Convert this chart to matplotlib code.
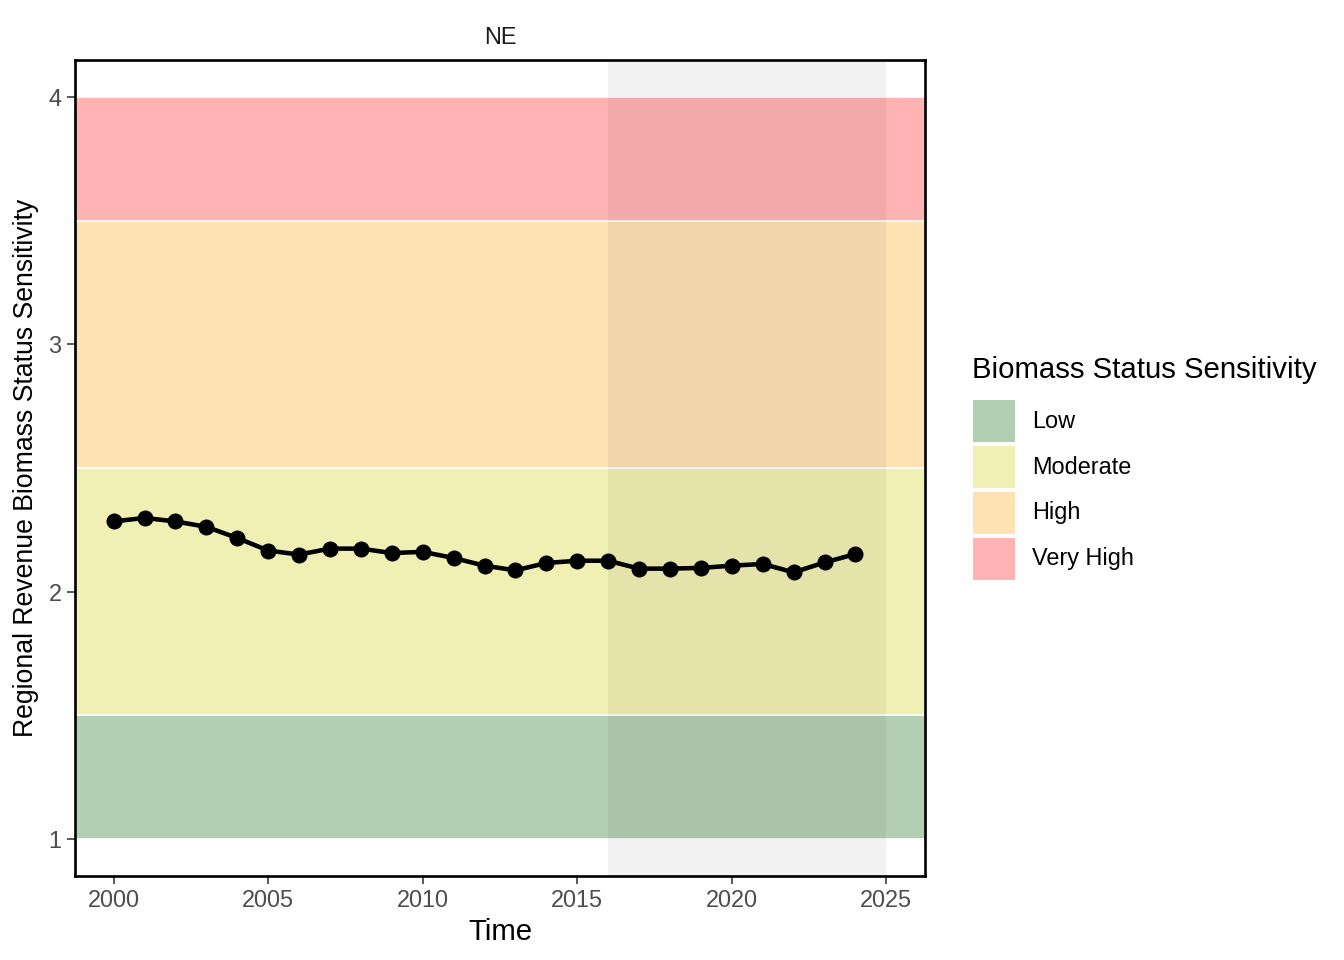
import matplotlib
matplotlib.use("Agg")
import matplotlib.pyplot as plt
from matplotlib.patches import Rectangle

plt.rcParams['font.family'] = ['Liberation Sans', 'DejaVu Sans']

years = list(range(2000, 2025))
values = [2.284, 2.298, 2.284, 2.262, 2.217, 2.166, 2.150, 2.174, 2.174, 2.156,
          2.161, 2.136, 2.105, 2.086, 2.116, 2.125, 2.125, 2.093, 2.093, 2.096,
          2.105, 2.112, 2.078, 2.118, 2.152]

band_labels = ["Low", "Moderate", "High", "Very High"]
band_lo = [1.0, 1.5, 2.5, 3.5]
band_hi = [1.5, 2.5, 3.5, 4.0]
band_colors = ["#B3CFB3", "#F0F0B4", "#FDE2B4", "#FFB3B3"]

shade_start, shade_end = 2016, 2025
facet = "NE"

W, H = 1344, 960
fig = plt.figure(figsize=(7, 5), dpi=192)
ax = fig.add_axes([75 / W, 1 - 876 / H, (925 - 75) / W, (876 - 60) / H])

for lo, hi, c in zip(band_lo, band_hi, band_colors):
    ax.axhspan(lo, hi, facecolor=c, edgecolor="white", linewidth=0.6, zorder=1)
ax.axvspan(shade_start, shade_end, facecolor="black", alpha=0.05, linewidth=0, zorder=2)

ax.plot(years, values, color="black", linewidth=1.7, zorder=3)
ax.scatter(years, values, s=36, color="black", zorder=4, linewidths=0)

xr = shade_end - years[0]
ax.set_xlim(years[0] - 0.05 * xr, shade_end + 0.05 * xr)
ax.set_ylim(1 - 0.15, 4 + 0.15)
ax.set_xticks([2000, 2005, 2010, 2015, 2020, 2025])
ax.set_yticks([1, 2, 3, 4])

for s in ax.spines.values():
    s.set_color("black")
    s.set_linewidth(1.0)
ax.tick_params(axis="both", direction="out", length=3, width=0.6, color="#333333",
               labelsize=8.8, labelcolor="#4D4D4D", pad=2)

ax.set_xlabel("Time", fontsize=11, color="black", labelpad=2)
ax.set_ylabel("Regional Revenue Biomass Status Sensitivity", fontsize=10, color="black")
ax.yaxis.set_label_coords(39 / W, 1 - 468 / H, transform=fig.transFigure)

fig.text((75 + 925) / 2 / W, 1 - 38 / H, facet, ha="center", va="center",
         fontsize=8.8, color="#1A1A1A")

# Legend (manual)
fig.text(972 / W, 1 - 370 / H, "Biomass Status Sensitivity", ha="left", va="center",
         fontsize=11, color="black")
key_top = [400, 446, 492, 538]
for lab, c, t in zip(band_labels, band_colors, key_top):
    fig.add_artist(Rectangle((973 / W, 1 - (t + 42) / H), 42 / W, 42 / H,
                             facecolor=c, edgecolor="none", transform=fig.transFigure))
    fig.text(1032 / W, 1 - (t + 21) / H, lab, ha="left", va="center",
             fontsize=8.8, color="black")

fig.savefig("out.png", dpi=192, facecolor="white")
